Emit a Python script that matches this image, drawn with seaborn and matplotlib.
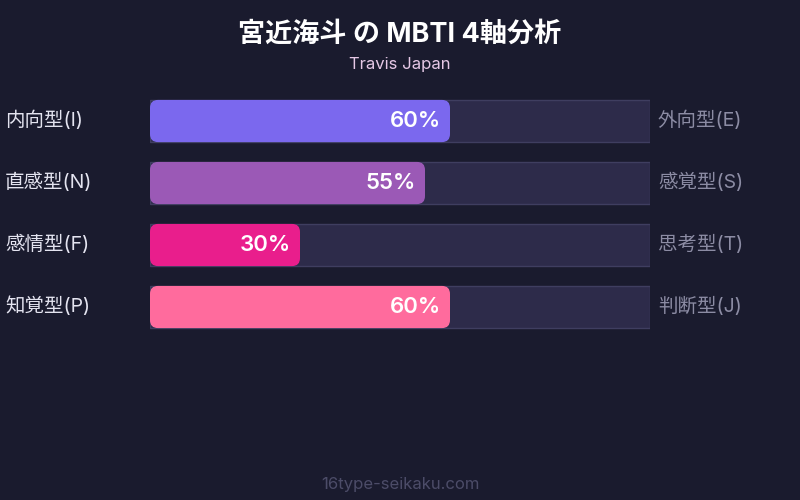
import pandas as pd
import matplotlib
matplotlib.use('Agg')
import matplotlib.pyplot as plt
from matplotlib.patches import FancyBboxPatch
import seaborn as sns

# Dados do gráfico
left_labels = ['内向型(I)', '直感型(N)', '感情型(F)', '知覚型(P)']
right_labels = ['外向型(E)', '感覚型(S)', '思考型(T)', '判断型(J)']
values = [60, 55, 30, 60]
bar_colors = ['#7b68ee', '#9b59b6', '#e91e8c', '#ff6b9d']
title = '宮近海斗 の MBTI 4軸分析'
subtitle = 'Travis Japan'
footer = '16type-seikaku.com'

df = pd.DataFrame({'axis': left_labels, 'value': values, 'full': [100] * len(values)})

bg = '#1a1b2e'
sns.set_theme(style='dark')
plt.rcParams['font.family'] = ['Inter', 'Noto Sans CJK JP', 'DejaVu Sans']

fig = plt.figure(figsize=(8, 5), dpi=100, facecolor=bg)
ax = fig.add_axes([150 / 800, 1 - 338 / 500, 500 / 800, 248 / 500])
ax.set_facecolor(bg)

# Trilho de fundo
sns.barplot(data=df, x='full', y='axis', orient='h', color='#2d2b4a', saturation=1,
            width=0.68, edgecolor='#3f3e60', linewidth=1, ax=ax)
n_track = len(ax.patches)
# Barras de valor
sns.barplot(data=df, x='value', y='axis', orient='h', hue='axis', palette=bar_colors,
            saturation=1, legend=False, width=0.68, linewidth=0, ax=ax)

ax.set_xlim(0, 100)
ax.set_ylim(3.5, -0.5)

# Substituir as barras de valor por retângulos arredondados
x_per_px = 100 / 500
y_per_px = 4 / 248
for p in list(ax.patches[n_track:]):
    x, y = p.get_x(), p.get_y()
    w, h = p.get_width(), p.get_height()
    fc = p.get_facecolor()
    p.remove()
    ax.add_patch(FancyBboxPatch((x, y), w, h,
                                boxstyle='round,pad=0,rounding_size=%f' % (8 * x_per_px),
                                mutation_aspect=y_per_px / x_per_px,
                                facecolor=fc, edgecolor='none', zorder=3))

for i, v in enumerate(values):
    ax.text(v - 9 * x_per_px, i, f'{v}%', ha='right', va='center', color='white',
            fontsize=16, fontweight='semibold', zorder=4)

ax.set_xlabel('')
ax.set_ylabel('')
ax.set_xticks([])
ax.set_yticks([])
for s in ax.spines.values():
    s.set_visible(False)

# Rótulos dos eixos
for i, (l, r) in enumerate(zip(left_labels, right_labels)):
    yf = 1 - (120 + 62 * i) / 500
    fig.text(5 / 800, yf, l, ha='left', va='center', color='#e4e4f0', fontsize=14)
    fig.text(658 / 800, yf, r, ha='left', va='center', color='#8c8ca4', fontsize=14)

fig.text(0.5, 1 - 35 / 500, title, ha='center', va='center', color='white',
         fontsize=19.5, fontweight='bold')
fig.text(0.5, 1 - 64 / 500, subtitle, ha='center', va='center', color='#e6c8e6', fontsize=12)
fig.text(0.5, 1 - 484 / 500, footer, ha='center', va='center', color='#4c4c68', fontsize=12)

fig.savefig('out.png', dpi=100, facecolor=bg)
